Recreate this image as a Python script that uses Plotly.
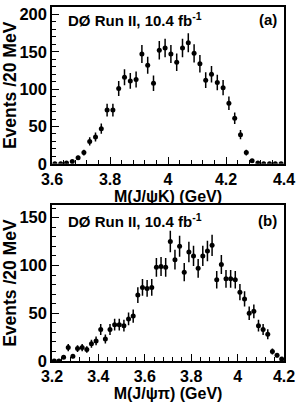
import numpy as np
import plotly.graph_objects as go

# Panel (a): M(J/psi K), 20 MeV bins from 3.6 to 4.4
mass_a = [round(3.61 + 0.02 * i, 2) for i in range(40)]
events_a = [0, 0, 1, 3, 8, 15, 30, 36, 47, 72,
            72, 101, 116, 111, 113, 147, 132, 108, 152, 155,
            147, 136, 155, 162, 148, 134, 112, 120, 109, 102,
            81, 61, 39, 15, 4, 1, 0, 0, 0, 0]

# Panel (b): M(J/psi pi), 20 MeV bins from 3.2 to 4.2
mass_b = [round(3.21 + 0.02 * i, 2) for i in range(50)]
events_b = [0, 0, 4, 14, 5, 13, 14, 12, 18, 21,
            33, 23, 33, 38, 38, 37, 44, 47, 69, 77,
            76, 77, 98, 99, 98, 125, 106, 120, 93, 114,
            110, 97, 110, 115, 121, 85, 101, 86, 86, 85,
            72, 65, 50, 52, 37, 33, 28, 10, 6, 2]

err_a = np.sqrt(np.array(events_a, dtype=float)).tolist()
err_b = np.sqrt(np.array(events_b, dtype=float)).tolist()

FONT = "Liberation Sans, Arial, sans-serif"

fig = go.Figure()
fig.add_trace(go.Scatter(
    x=mass_a, y=events_a, mode="markers",
    marker=dict(color="black", size=5),
    error_y=dict(type="data", array=err_a, visible=True, color="black", thickness=1.5, width=0),
    xaxis="x", yaxis="y", showlegend=False))
fig.add_trace(go.Scatter(
    x=mass_b, y=events_b, mode="markers",
    marker=dict(color="black", size=5),
    error_y=dict(type="data", array=err_b, visible=True, color="black", thickness=1.5, width=0),
    xaxis="x2", yaxis="y2", showlegend=False))

axis_common = dict(
    showline=True, linecolor="black", linewidth=1.5, mirror=True,
    ticks="inside", ticklen=7, tickwidth=1.2, tickcolor="black",
    showgrid=False, zeroline=False,
)
xtick_font = dict(family=FONT, size=16, color="black", weight="bold")
ytick_font = dict(family=FONT, size=16.5, color="black", weight="bold")
xtitle_font = dict(family=FONT, size=16, color="black", weight="bold")
ytitle_font = dict(family=FONT, size=17.5, color="black", weight="bold")

fig.update_layout(
    width=300, height=402,
    margin=dict(l=49, r=15, t=5, b=38),
    paper_bgcolor="white", plot_bgcolor="white",
    font=dict(family=FONT, color="black"),
    xaxis=dict(domain=[0, 1], anchor="y", range=[3.6, 4.4], tickvals=[3.6, 3.8, 4.0, 4.2, 4.4],
               ticktext=["3.6", "3.8", "4", "4.2", "4.4"], tickfont=xtick_font,
               minor=dict(dtick=0.04, ticks="inside", ticklen=4, tickcolor="black", tick0=3.6),
               title=dict(text="M(J/ψK) (GeV)", standoff=1, font=xtitle_font),
               **axis_common),
    yaxis=dict(domain=[0.557, 1], anchor="x", range=[0, 210], tickvals=[0, 50, 100, 150, 200],
               tickfont=ytick_font,
               minor=dict(dtick=10, ticks="inside", ticklen=4, tickcolor="black", tick0=0),
               title=dict(text="Events /20 MeV", standoff=2, font=ytitle_font),
               **axis_common),
    xaxis2=dict(domain=[0, 1], anchor="y2", range=[3.2, 4.2], tickvals=[3.2, 3.4, 3.6, 3.8, 4.0, 4.2],
                ticktext=["3.2", "3.4", "3.6", "3.8", "4", "4.2"], tickfont=xtick_font,
                minor=dict(dtick=0.04, ticks="inside", ticklen=4, tickcolor="black", tick0=3.2),
                title=dict(text="M(J/ψπ) (GeV)", standoff=1, font=xtitle_font),
                **axis_common),
    yaxis2=dict(domain=[0, 0.44], anchor="x2", range=[0, 163], tickvals=[0, 50, 100, 150],
                tickfont=ytick_font,
                minor=dict(dtick=10, ticks="inside", ticklen=4, tickcolor="black", tick0=0),
                title=dict(text="Events /20 MeV", standoff=2, font=ytitle_font),
                **axis_common),
)

ann_font = dict(family=FONT, size=15, color="black", weight="bold")
fig.add_annotation(xref="x domain", yref="y domain", x=0.06, y=0.92, xanchor="left", yanchor="middle",
                   text="DØ Run II, 10.4 fb<sup>-1</sup>", showarrow=False, font=ann_font)
fig.add_annotation(xref="x domain", yref="y domain", x=0.98, y=0.92, xanchor="right", yanchor="middle",
                   text="(a)", showarrow=False, font=ann_font)
fig.add_annotation(xref="x2 domain", yref="y2 domain", x=0.06, y=0.9, xanchor="left", yanchor="middle",
                   text="DØ Run II, 10.4 fb<sup>-1</sup>", showarrow=False, font=ann_font)
fig.add_annotation(xref="x2 domain", yref="y2 domain", x=0.98, y=0.9, xanchor="right", yanchor="middle",
                   text="(b)", showarrow=False, font=ann_font)

fig.write_html("out.html")
